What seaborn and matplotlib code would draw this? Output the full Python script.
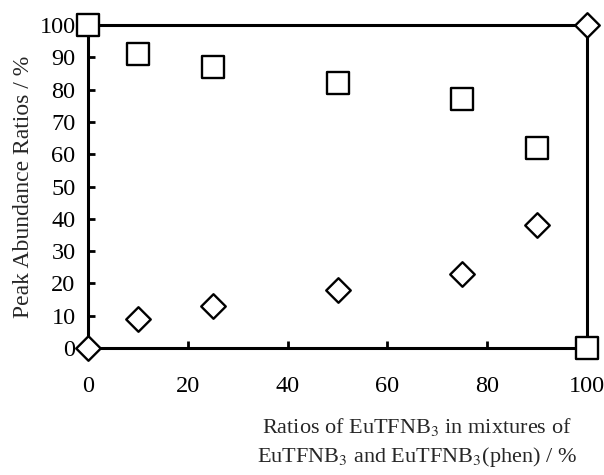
import matplotlib
matplotlib.use("Agg")
import matplotlib.pyplot as plt
import seaborn as sns
import pandas as pd

x_ratio = [0, 10, 25, 50, 75, 90, 100]
square_vals = [100, 91, 87, 82, 77, 62, 0]
diamond_vals = [0, 9, 13, 18, 23, 38, 100]
x_ticks = [0, 20, 40, 60, 80, 100]
y_ticks = [0, 10, 20, 30, 40, 50, 60, 70, 80, 90, 100]

sns.set_style("white")
plt.rcParams['font.family'] = ['Liberation Serif', 'DejaVu Serif']
plt.rcParams['mathtext.fontset'] = 'stix'

fig = plt.figure(figsize=(6.04, 4.75), dpi=100)
ax = fig.add_axes([0.1457, 0.2674, 0.8262, 0.6796])

df_sq = pd.DataFrame({"x": x_ratio, "y": square_vals})
df_di = pd.DataFrame({"x": x_ratio, "y": diamond_vals})

sns.scatterplot(data=df_sq, x="x", y="y", marker="s", s=16.5**2, facecolor="white",
                edgecolor="black", linewidth=1.7, ax=ax, clip_on=False, zorder=5)
sns.scatterplot(data=df_di, x="x", y="y", marker="D", s=12.5**2, facecolor="white",
                edgecolor="black", linewidth=1.7, ax=ax, clip_on=False, zorder=5)

ax.set_xlim(0, 100)
ax.set_ylim(0, 100)
ax.set_xticks(x_ticks)
ax.set_yticks(y_ticks)
ax.tick_params(axis="both", direction="in", length=5, width=2, labelsize=17.5,
               color="black", labelcolor="black", top=False, right=False,
               bottom=True, left=True)
ax.tick_params(axis="x", pad=20)
ax.tick_params(axis="y", pad=9)
for sp in ax.spines.values():
    sp.set_visible(True)
    sp.set_linewidth(2.2)
    sp.set_color("black")

ax.set_xlabel("")
ax.set_ylabel("Peak Abundance Ratios / %", fontsize=17, labelpad=4)

fig.text(0.69, 0.012, "Ratios of EuTFNB$_3$ in mixtures of\nEuTFNB$_3$ and EuTFNB$_3$(phen) / %",
         ha="center", va="bottom", fontsize=16, linespacing=1.45)

fig.savefig("out.png", dpi=100)
